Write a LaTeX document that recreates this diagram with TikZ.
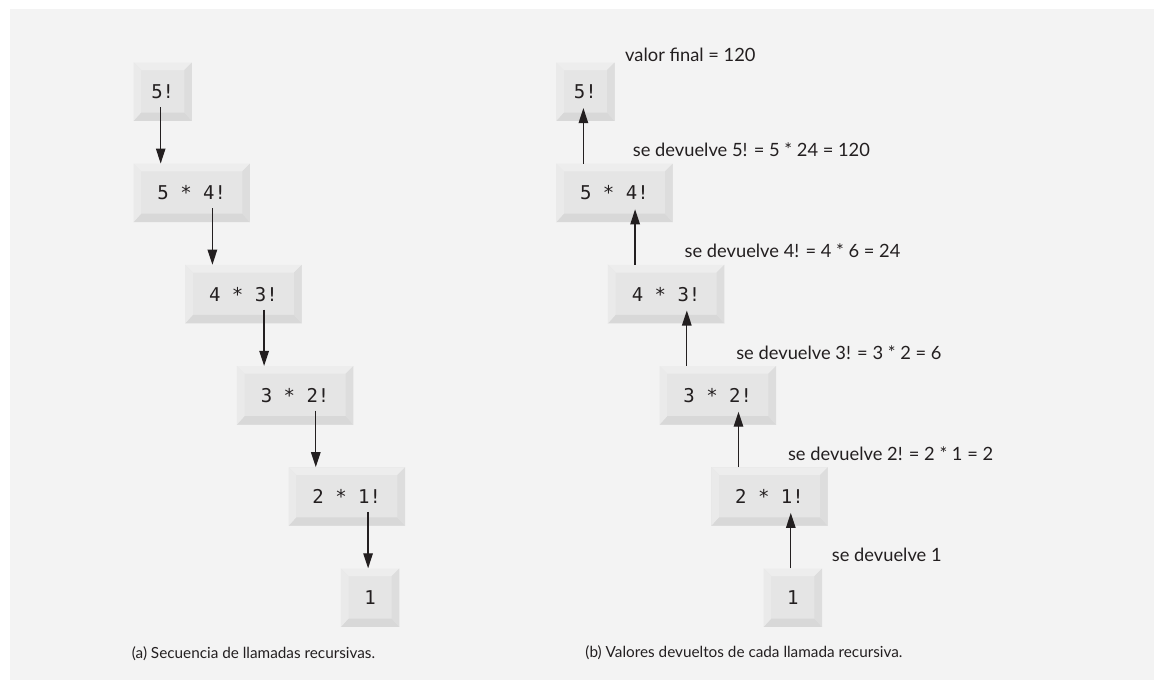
\documentclass[tikz,border=0pt]{standalone}
\usepackage{fontspec}
\setmainfont{Lato}
\newfontfamily\monof{DejaVu Sans Mono}
\usetikzlibrary{arrows.meta,calc}
\definecolor{panel}{HTML}{F3F3F3}
\definecolor{face}{HTML}{E5E5E5}
\definecolor{bvtop}{HTML}{EDEDED}
\definecolor{bvleft}{HTML}{EAEAEA}
\definecolor{bvright}{HTML}{DDDDDD}
\definecolor{bvbot}{HTML}{D8D8D8}
\definecolor{ink}{HTML}{231F20}
\tikzset{
  bevel/.style={
    path picture={
      \coordinate (pNW) at (path picture bounding box.north west);
      \coordinate (pNE) at (path picture bounding box.north east);
      \coordinate (pSW) at (path picture bounding box.south west);
      \coordinate (pSE) at (path picture bounding box.south east);
      \fill[bvtop] (pNW) -- (pNE) -- ([shift={(-7.6pt,-7.6pt)}]pNE) -- ([shift={(7.6pt,-7.6pt)}]pNW) -- cycle;
      \fill[bvbot] (pSW) -- (pSE) -- ([shift={(-7.6pt,8.4pt)}]pSE) -- ([shift={(7.6pt,8.4pt)}]pSW) -- cycle;
      \fill[bvleft] (pNW) -- ([shift={(7.6pt,-7.6pt)}]pNW) -- ([shift={(7.6pt,8.4pt)}]pSW) -- (pSW) -- cycle;
      \fill[bvright] (pNE) -- ([shift={(-7.6pt,-7.6pt)}]pNE) -- ([shift={(-7.6pt,8.4pt)}]pSE) -- (pSE) -- cycle;
    }},
  keywide/.style={bevel, fill=face, inner sep=0pt, anchor=north west,
    minimum width=116.4pt, minimum height=58.4pt, text=ink,
    font=\monof\fontsize{19}{22}\selectfont},
  keysmall/.style={keywide, minimum width=58.4pt},
  arr/.style={draw=ink, line width=1.3pt, -{Triangle[length=15pt,width=9.5pt]}},
  lab/.style={anchor=base west, inner sep=0pt, text=ink, font=\fontsize{18.3}{21}\selectfont},
  captxt/.style={anchor=base, inner sep=0pt, text=ink, font=\fontsize{15.3}{18}\selectfont},
}
\begin{document}
\begin{tikzpicture}[x=1pt,y=-1pt]
\useasboundingbox (0,0) rectangle (1154,680);
\fill[white] (0,0) rectangle (1154,680);
\fill[panel] (10,9) rectangle (1154,680);
% panel (a)
\node[keysmall] (a1) at (133.3,62.3) {5!};
\node[keywide]  (a2) at (133.3,163.5) {5 * 4!};
\node[keywide]  (a3) at (185.0,264.7) {4 * 3!};
\node[keywide]  (a4) at (236.7,365.9) {3 * 2!};
\node[keywide]  (a5) at (288.4,467.1) {2 * 1!};
\node[keysmall] (a6) at (340.7,568.3) {1};
\foreach \i/\j in {a1/a2,a2/a3,a3/a4,a4/a5,a5/a6}{
  \coordinate (t-\j) at ([xshift=27.4pt]\j.north west);
  \draw[arr] ([yshift=14pt]\i.south -| t-\j) -- (t-\j);
}
% panel (b)
\node[keysmall] (b1) at (556.0,62.3) {5!};
\node[keywide]  (b2) at (556.0,163.5) {5 * 4!};
\node[keywide]  (b3) at (607.7,264.7) {4 * 3!};
\node[keywide]  (b4) at (659.4,365.9) {3 * 2!};
\node[keywide]  (b5) at (711.1,467.1) {2 * 1!};
\node[keysmall] (b6) at (763.4,568.3) {1};
\foreach \i/\j in {b1/b2,b2/b3,b3/b4,b4/b5,b5/b6}{
  \coordinate (s-\j) at ([xshift=27.4pt]\j.north west);
  \draw[arr] (s-\j) -- ([yshift=13pt]\i.south -| s-\j);
}
\node[lab] (l1) at (625,61.7) {valor final = 120};
\node[lab] (l2) at (632.7,156) {se devuelve 5! = 5 * 24 = 120};
\node[lab] (l3) at (684.4,257.8) {se devuelve 4! = 4 * 6 = 24};
\node[lab] (l4) at (736.1,359.3) {se devuelve 3! = 3 * 2 = 6};
\node[lab] (l5) at (787.8,460.2) {se devuelve 2! = 2 * 1 = 2};
\node[lab] (l6) at (831.7,561.7) {se devuelve 1};
\node[captxt] (ca) at (253.5,658.3) {(a) Secuencia de llamadas recursivas.};
\node[captxt] (cb) at (744,657.8) {(b) Valores devueltos de cada llamada recursiva.};
\end{tikzpicture}
\end{document}
